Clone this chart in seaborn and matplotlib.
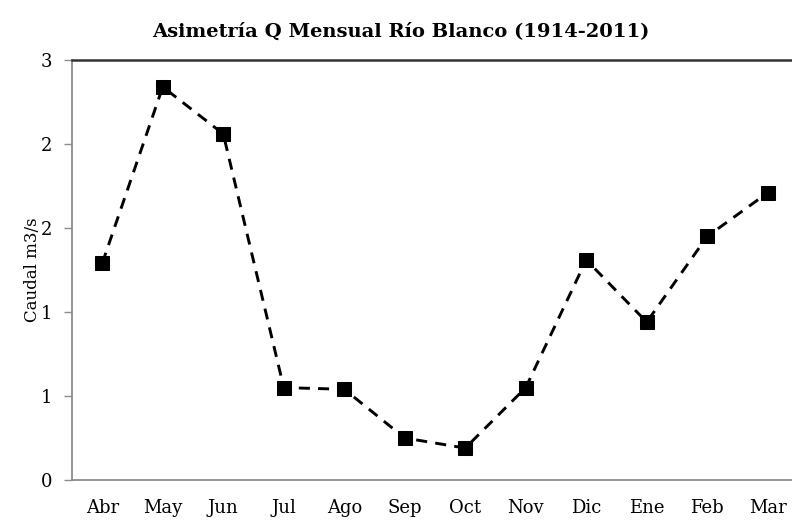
import pandas as pd
import matplotlib
matplotlib.use("Agg")
import matplotlib.pyplot as plt
import seaborn as sns

# --- Data ---
MONTHS = ["Abr", "May", "Jun", "Jul", "Ago", "Sep", "Oct", "Nov", "Dic", "Ene", "Feb", "Mar"]
CAUDAL = [1.29, 2.34, 2.06, 0.55, 0.54, 0.25, 0.19, 0.55, 1.31, 0.94, 1.45, 1.71]
Y_TICKS = [0, 0.5, 1.0, 1.5, 2.0, 2.5]
Y_TICK_LABELS = ["0", "1", "1", "2", "2", "3"]

TITLE = "Asimetría Q Mensual Río Blanco (1914-2011)"
YLABEL = "Caudal m3/s"


def make_chart():
    sns.set_theme(style="white")
    plt.rcParams["font.family"] = ["DejaVu Serif", "Liberation Serif"]
    plt.rcParams["text.color"] = "black"
    plt.rcParams["xtick.labelcolor"] = "black"
    plt.rcParams["ytick.labelcolor"] = "black"
    plt.rcParams["axes.labelcolor"] = "black"

    df = pd.DataFrame({"mes": MONTHS, "caudal": CAUDAL})

    fig = plt.figure(figsize=(7.92, 5.27), dpi=100)
    # plot area runs slightly past the right edge, as in the reference
    ax = fig.add_axes([72 / 792, 47 / 527, 726 / 792, 420 / 527])

    sns.lineplot(
        data=df, x="mes", y="caudal", ax=ax, sort=False,
        color="black", linewidth=2.1, linestyle=(0, (3.8, 2.8)),
        marker="s", markersize=10, markeredgecolor="black",
        markerfacecolor="black",
    )

    ax.set_xlim(-0.5, len(MONTHS) - 0.5)
    ax.set_ylim(0, 2.5)
    ax.set_yticks(Y_TICKS)
    ax.set_yticklabels(Y_TICK_LABELS, fontsize=13)
    ax.set_xticks(range(len(MONTHS)))
    ax.set_xticklabels(MONTHS, fontsize=13)
    ax.set_xticks([i - 0.5 for i in range(len(MONTHS) + 1)], minor=True)

    # category tick marks sit between labels
    ax.tick_params(axis="x", which="major", length=0, pad=14)
    ax.tick_params(axis="x", which="minor", length=6, width=1, color="#8c8c8c", direction="out")
    ax.tick_params(axis="y", length=6, width=1, color="#8c8c8c", direction="out", left=True, pad=8)

    for side in ["left", "bottom"]:
        ax.spines[side].set_color("#8c8c8c")
        ax.spines[side].set_linewidth(1.3)
    ax.spines["right"].set_visible(False)
    ax.spines["top"].set_color("#333333")
    ax.spines["top"].set_linewidth(1.8)

    ax.set_xlabel("")
    ax.set_ylabel(YLABEL, fontsize=12, labelpad=0)
    fig.text(401 / 792, 1 - 32 / 527, TITLE, ha="center", va="center",
             fontsize=14, fontweight="bold")

    fig.savefig("out.png", dpi=100)
    plt.close(fig)


if __name__ == "__main__":
    make_chart()
